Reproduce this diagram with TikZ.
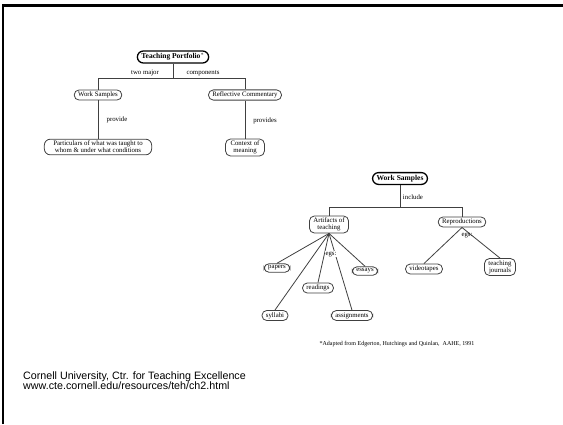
\documentclass[tikz,border=0pt]{standalone}
\usepackage{fontspec}
\setmainfont{Liberation Serif}
\newfontfamily\footfont{Liberation Sans}
\begin{document}
\begin{tikzpicture}[x=1pt,y=-1pt,
  cnode/.style={draw=black!75,line width=0.8pt,rounded corners=5pt,inner xsep=4pt,inner ysep=2pt,align=center,font=\fontsize{6.8}{6.8}\selectfont,fill=white},
  bnode/.style={draw=black,line width=1.3pt,rounded corners=6pt,inner xsep=4pt,inner ysep=2.5pt,font=\fontsize{7.5}{8}\selectfont\bfseries,fill=white},
  lbl/.style={font=\fontsize{6.8}{6.8}\selectfont,inner sep=1pt},
  conn/.style={draw=black!75,line width=0.8pt}]
\useasboundingbox (0,0) rectangle (563,424);
% frame
\draw[line width=2.4pt] (2.8,424) -- (2.8,5.3) -- (563,5.3);
% top diagram
\node[bnode] (tp) at (173,57) {Teaching Portfolio$^{*}$};
\coordinate (j1) at (173,78);
\node[cnode] (ws) at (98,95) {Work Samples};
\node[cnode] (rc) at (245,95) {Reflective Commentary};
\node[cnode,inner xsep=9pt,rounded corners=6pt] (part) at (98,147) {Particulars of what was taught to\\whom \& under what conditions};
\node[cnode,inner xsep=5pt] (ctx) at (245,147.5) {Context of\\meaning};
\draw[conn] (tp.south) -- (j1);
\draw[conn] (ws.north) -- (ws.north |- j1) -- (rc.north |- j1) -- (rc.north);
\draw[conn] (ws.south) -- (part.north);
\draw[conn] (rc.south) -- (ctx.north);
\node[lbl] (l1) at (145,73) {two major};
\node[lbl] (l2) at (203,73) {components};
\node[lbl] (l3) at (117,120) {provide};
\node[lbl] (l4) at (265,121) {provides};
% bottom diagram
\node[bnode] (ws2) at (400,178.5) {Work Samples};
\coordinate (j2) at (400,207.7);
\node[cnode] (art) at (329,224.5) {Artifacts of\\teaching};
\node[cnode] (rep) at (462,222) {Reproductions};
\draw[conn] (ws2.south) -- (j2);
\draw[conn] (art.north) -- (art.north |- j2) -- (rep.north |- j2) -- (rep.north);
\node[lbl] (l5) at (413,197) {include};
\node[cnode] (papers) at (277,268) {papers};
\node[cnode] (essays) at (365,271) {essays};
\node[cnode] (readings) at (318,288) {readings};
\node[cnode] (syllabi) at (275,315.5) {syllabi};
\node[cnode] (assign) at (352,315.5) {assignments};
\node[cnode] (vid) at (424,269) {videotapes};
\node[cnode] (tj) at (500,267) {teaching\\journals};
\foreach \c in {papers,essays,readings,syllabi,assign}
  \draw[conn] (art.south) -- (\c.north);
\foreach \c in {vid,tj}
  \draw[conn] (rep.south) -- (\c.north);
\node[lbl,fill=white] (l6) at (331,254) {egs:};
\node[lbl] (l7) at (467,235) {egs:};
\node[lbl,font=\fontsize{6}{6}\selectfont] (fn) at (397,344) {*Adapted from Edgerton, Hutchings and Quinlan,\ \ AAHE, 1991};
% footer
\node[anchor=west,align=left,inner sep=0pt,font=\footfont\fontsize{10.7}{10.5}\selectfont] (ft) at (23,380.5) {Cornell University, Ctr. for Teaching Excellence\\www.cte.cornell.edu/resources/teh/ch2.html};
\end{tikzpicture}
\end{document}
